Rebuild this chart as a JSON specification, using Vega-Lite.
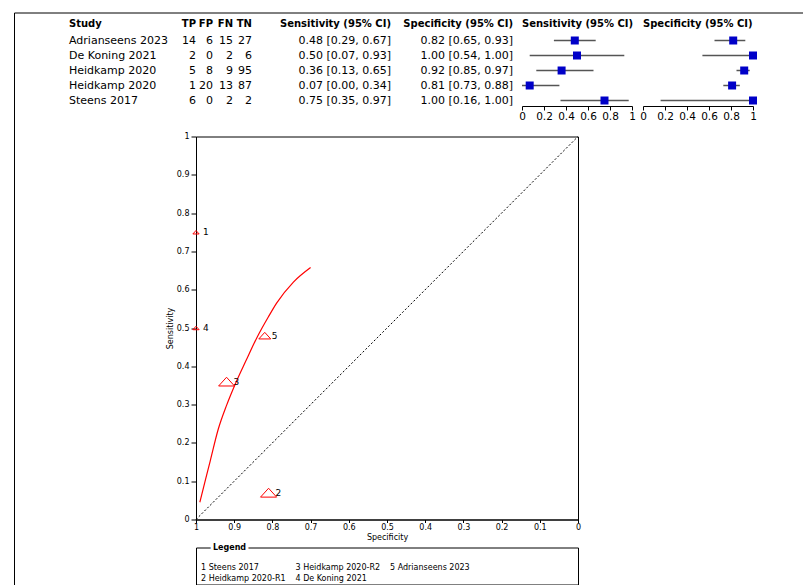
{
  "$schema": "https://vega.github.io/schema/vega-lite/v6.json",
  "usermeta": {"embedOptions": {"actions": false}},
  "padding": {"left": 14, "top": 12, "right": 0, "bottom": 0},
  "autosize": {"type": "pad"},
  "background": "white",
  "config": {
    "view": {"stroke": null},
    "font": "DejaVu Sans",
    "title": {"font": "DejaVu Sans", "fontSize": 10, "fontWeight": "bold", "color": "black", "offset": 4, "frame": "group"},
    "axis": {"labelFont": "DejaVu Sans", "titleFont": "DejaVu Sans", "domainColor": "black", "tickColor": "black", "labelColor": "black", "titleColor": "black", "grid": false, "titleFontWeight": "normal", "labelFlush": false, "labelOverlap": false},
    "text": {"font": "DejaVu Sans", "color": "black"}
  },
  "datasets": {
    "studies": [
      {"num": 5, "study": "Adrianseens 2023", "label": "5 Adrianseens 2023", "TP": 14, "FP": 6, "FN": 15, "TN": 27, "n": 62, "sens": 0.48, "sensLo": 0.29, "sensHi": 0.67, "spec": 0.82, "specLo": 0.65, "specHi": 0.93},
      {"num": 4, "study": "De Koning 2021", "label": "4 De Koning 2021", "TP": 2, "FP": 0, "FN": 2, "TN": 6, "n": 10, "sens": 0.50, "sensLo": 0.07, "sensHi": 0.93, "spec": 1.00, "specLo": 0.54, "specHi": 1.00},
      {"num": 3, "study": "Heidkamp 2020", "label": "3 Heidkamp 2020-R2", "TP": 5, "FP": 8, "FN": 9, "TN": 95, "n": 117, "sens": 0.36, "sensLo": 0.13, "sensHi": 0.65, "spec": 0.92, "specLo": 0.85, "specHi": 0.97},
      {"num": 2, "study": "Heidkamp 2020", "label": "2 Heidkamp 2020-R1", "TP": 1, "FP": 20, "FN": 13, "TN": 87, "n": 121, "sens": 0.07, "sensLo": 0.00, "sensHi": 0.34, "spec": 0.81, "specLo": 0.73, "specHi": 0.88},
      {"num": 1, "study": "Steens 2017", "label": "1 Steens 2017", "TP": 6, "FP": 0, "FN": 2, "TN": 2, "n": 10, "sens": 0.75, "sensLo": 0.35, "sensHi": 0.97, "spec": 1.00, "specLo": 0.16, "specHi": 1.00}
    ],
    "curve": [
      {"spec": 0.990, "sens": 0.045},
      {"spec": 0.975, "sens": 0.105},
      {"spec": 0.963, "sens": 0.152},
      {"spec": 0.942, "sens": 0.235},
      {"spec": 0.920, "sens": 0.298},
      {"spec": 0.898, "sens": 0.352},
      {"spec": 0.869, "sens": 0.415},
      {"spec": 0.840, "sens": 0.476},
      {"spec": 0.810, "sens": 0.530},
      {"spec": 0.789, "sens": 0.565},
      {"spec": 0.745, "sens": 0.620},
      {"spec": 0.700, "sens": 0.658}
    ],
    "diag": [
      {"spec": 1, "sens": 0},
      {"spec": 0, "sens": 1}
    ]
  },
  "spacing": 103.5,
  "bounds": "flush",
  "vconcat": [
    {
      "spacing": 0,
      "bounds": "flush",
      "hconcat": [
        {"width": 101, "height": 75, "data": {"name": "studies"}, "title": {"text": "Study", "anchor": "start"},
         "mark": {"type": "text", "align": "left", "baseline": "middle", "fontSize": 11},
         "encoding": {"x": {"value": 0}, "y": {"field": "num", "type": "ordinal", "sort": "descending", "axis": null}, "text": {"field": "study"}}},
        {"width": 26, "height": 75, "data": {"name": "studies"}, "title": {"text": "TP", "anchor": "end"},
         "mark": {"type": "text", "align": "right", "baseline": "middle", "fontSize": 11},
         "encoding": {"x": {"value": "width"}, "y": {"field": "num", "type": "ordinal", "sort": "descending", "axis": null}, "text": {"field": "TP"}}},
        {"width": 17, "height": 75, "data": {"name": "studies"}, "title": {"text": "FP", "anchor": "end"},
         "mark": {"type": "text", "align": "right", "baseline": "middle", "fontSize": 11},
         "encoding": {"x": {"value": "width"}, "y": {"field": "num", "type": "ordinal", "sort": "descending", "axis": null}, "text": {"field": "FP"}}},
        {"width": 20, "height": 75, "data": {"name": "studies"}, "title": {"text": "FN", "anchor": "end"},
         "mark": {"type": "text", "align": "right", "baseline": "middle", "fontSize": 11},
         "encoding": {"x": {"value": "width"}, "y": {"field": "num", "type": "ordinal", "sort": "descending", "axis": null}, "text": {"field": "FN"}}},
        {"width": 19, "height": 75, "data": {"name": "studies"}, "title": {"text": "TN", "anchor": "end"},
         "mark": {"type": "text", "align": "right", "baseline": "middle", "fontSize": 11},
         "encoding": {"x": {"value": "width"}, "y": {"field": "num", "type": "ordinal", "sort": "descending", "axis": null}, "text": {"field": "TN"}}},
        {"width": 139, "height": 75, "data": {"name": "studies"}, "title": {"text": "Sensitivity (95% CI)", "anchor": "end"},
         "transform": [{"calculate": "format(datum.sens, '.2f') + ' [' + format(datum.sensLo, '.2f') + ', ' + format(datum.sensHi, '.2f') + ']'", "as": "sensCI"}],
         "mark": {"type": "text", "align": "right", "baseline": "middle", "fontSize": 11},
         "encoding": {"x": {"value": "width"}, "y": {"field": "num", "type": "ordinal", "sort": "descending", "axis": null}, "text": {"field": "sensCI"}}},
        {"width": 122, "height": 75, "data": {"name": "studies"}, "title": {"text": "Specificity (95% CI)", "anchor": "end"},
         "transform": [{"calculate": "format(datum.spec, '.2f') + ' [' + format(datum.specLo, '.2f') + ', ' + format(datum.specHi, '.2f') + ']'", "as": "specCI"}],
         "mark": {"type": "text", "align": "right", "baseline": "middle", "fontSize": 11},
         "encoding": {"x": {"value": "width"}, "y": {"field": "num", "type": "ordinal", "sort": "descending", "axis": null}, "text": {"field": "specCI"}}},
        {"width": 9, "height": 75,
         "layer": [
           {"data": {"values": [{}]}, "mark": {"type": "rule", "color": "black", "strokeWidth": 1},
            "encoding": {"x": {"value": -498.5}, "x2": {"value": 290}, "y": {"value": -20}}},
           {"data": {"values": [{}]}, "mark": {"type": "rule", "color": "black", "strokeWidth": 1},
            "encoding": {"x": {"value": -498.5}, "y": {"value": -20}, "y2": {"value": 552}}}
         ]},
        {"width": 110, "height": 75, "data": {"name": "studies"}, "title": {"text": "Sensitivity (95% CI)", "anchor": "start"},
         "encoding": {"y": {"field": "num", "type": "ordinal", "sort": "descending", "axis": null}},
         "layer": [
           {"mark": {"type": "rule", "color": "#555555", "strokeWidth": 1.5},
            "encoding": {"x": {"field": "sensLo", "type": "quantitative", "scale": {"domain": [0, 1], "nice": false, "zero": false},
                               "axis": {"title": null, "values": [0, 0.2, 0.4, 0.6, 0.8, 1], "tickCount": 20, "format": "~g", "tickSize": 4, "labelPadding": 1, "labelFontSize": 10.5, "offset": -2, "labelOverlap": false, "labelFlush": false}},
                         "x2": {"field": "sensHi"}}},
           {"mark": {"type": "point", "shape": "square", "filled": true, "color": "#0000C8", "size": 64, "opacity": 1, "strokeWidth": 0},
            "encoding": {"x": {"field": "sens", "type": "quantitative"}}}
         ]},
        {"width": 11, "height": 75, "data": {"values": [{}]}, "mark": {"type": "point", "opacity": 0, "size": 0}, "encoding": {}},
        {"width": 110, "height": 75, "data": {"name": "studies"}, "title": {"text": "Specificity (95% CI)", "anchor": "start"},
         "encoding": {"y": {"field": "num", "type": "ordinal", "sort": "descending", "axis": null}},
         "layer": [
           {"mark": {"type": "rule", "color": "#555555", "strokeWidth": 1.5},
            "encoding": {"x": {"field": "specLo", "type": "quantitative", "scale": {"domain": [0, 1], "nice": false, "zero": false},
                               "axis": {"title": null, "values": [0, 0.2, 0.4, 0.6, 0.8, 1], "tickCount": 20, "format": "~g", "tickSize": 4, "labelPadding": 1, "labelFontSize": 10.5, "offset": -2, "labelOverlap": false, "labelFlush": false}},
                         "x2": {"field": "specHi"}}},
           {"mark": {"type": "point", "shape": "square", "filled": true, "color": "#0000C8", "size": 64, "opacity": 1, "strokeWidth": 0},
            "encoding": {"x": {"field": "spec", "type": "quantitative"}}}
         ]}
      ]
    },
    {
      "spacing": 0,
      "bounds": "flush",
      "hconcat": [
        {"width": 127, "height": 10, "data": {"values": [{}]}, "mark": {"type": "point", "opacity": 0, "size": 0}, "encoding": {}},
        {
          "spacing": 28,
          "bounds": "flush",
          "vconcat": [
            {
              "width": 382, "height": 383,
              "view": {"stroke": "black"},
              "layer": [
                {"data": {"name": "diag"},
                 "mark": {"type": "line", "color": "black", "strokeDash": [2, 2], "strokeWidth": 1},
                 "encoding": {
                   "x": {"field": "spec", "type": "quantitative", "scale": {"domain": [0, 1], "reverse": true, "nice": false, "zero": false},
                         "axis": {"title": "Specificity", "values": [0, 0.1, 0.2, 0.3, 0.4, 0.5, 0.6, 0.7, 0.8, 0.9, 1], "tickCount": 30, "format": "~g", "tickSize": 3, "labelPadding": 1, "titlePadding": 2, "labelFontSize": 8, "titleFontSize": 8, "labelOverlap": false, "labelFlush": false}},
                   "y": {"field": "sens", "type": "quantitative", "scale": {"domain": [0, 1], "nice": false, "zero": false},
                         "axis": {"title": "Sensitivity", "values": [0, 0.1, 0.2, 0.3, 0.4, 0.5, 0.6, 0.7, 0.8, 0.9, 1], "tickCount": 30, "format": "~g", "tickSize": 5, "labelPadding": 2, "titlePadding": 2, "labelFontSize": 8, "titleFontSize": 8, "labelOverlap": false, "labelFlush": false}}
                 }},
                {"data": {"name": "curve"},
                 "mark": {"type": "line", "color": "red", "strokeWidth": 1.2, "interpolate": "monotone"},
                 "encoding": {"x": {"field": "spec", "type": "quantitative"}, "y": {"field": "sens", "type": "quantitative"}}},
                {"data": {"name": "studies"},
                 "mark": {"type": "point", "shape": "M-1,0.55L0,-0.55L1,0.55Z", "filled": false, "color": "red", "strokeWidth": 1, "opacity": 1},
                 "encoding": {"x": {"field": "spec", "type": "quantitative"}, "y": {"field": "sens", "type": "quantitative"},
                              "size": {"field": "n", "type": "quantitative", "scale": {"domain": [-10, 121], "range": [0, 260], "zero": false}, "legend": null}}},
                {"data": {"name": "studies"},
                 "mark": {"type": "text", "align": "left", "baseline": "middle", "dx": 7, "fontSize": 9},
                 "encoding": {"x": {"field": "spec", "type": "quantitative"}, "y": {"field": "sens", "type": "quantitative"}, "text": {"field": "num"}}}
              ]
            },
            {
              "width": 382, "height": 37,
              "view": {"stroke": "black"},
              "layer": [
                {"data": {"name": "studies"},
                 "transform": [{"calculate": "floor((datum.num - 1) / 2)", "as": "col"}, {"calculate": "(datum.num - 1) % 2", "as": "row"}],
                 "mark": {"type": "text", "align": "left", "baseline": "middle", "fontSize": 8},
                 "encoding": {
                   "x": {"field": "col", "type": "quantitative", "scale": {"domain": [-0.0529, 3.989], "nice": false, "zero": false}, "axis": null},
                   "y": {"field": "row", "type": "quantitative", "scale": {"domain": [-1.909, 1.455], "reverse": true, "nice": false, "zero": false}, "axis": null},
                   "text": {"field": "label"}
                 }},
                {"data": {"values": [{"t": "Legend"}]},
                 "mark": {"type": "text", "align": "left", "baseline": "middle", "fontSize": 8, "fontWeight": "bold", "stroke": "white", "strokeWidth": 6, "color": "white"},
                 "encoding": {"x": {"value": 17}, "y": {"value": 0}, "text": {"field": "t"}}},
                {"data": {"values": [{"t": "Legend"}]},
                 "mark": {"type": "text", "align": "left", "baseline": "middle", "fontSize": 8, "fontWeight": "bold", "color": "black"},
                 "encoding": {"x": {"value": 17}, "y": {"value": 0}, "text": {"field": "t"}}}
              ]
            }
          ]
        }
      ]
    }
  ]
}
